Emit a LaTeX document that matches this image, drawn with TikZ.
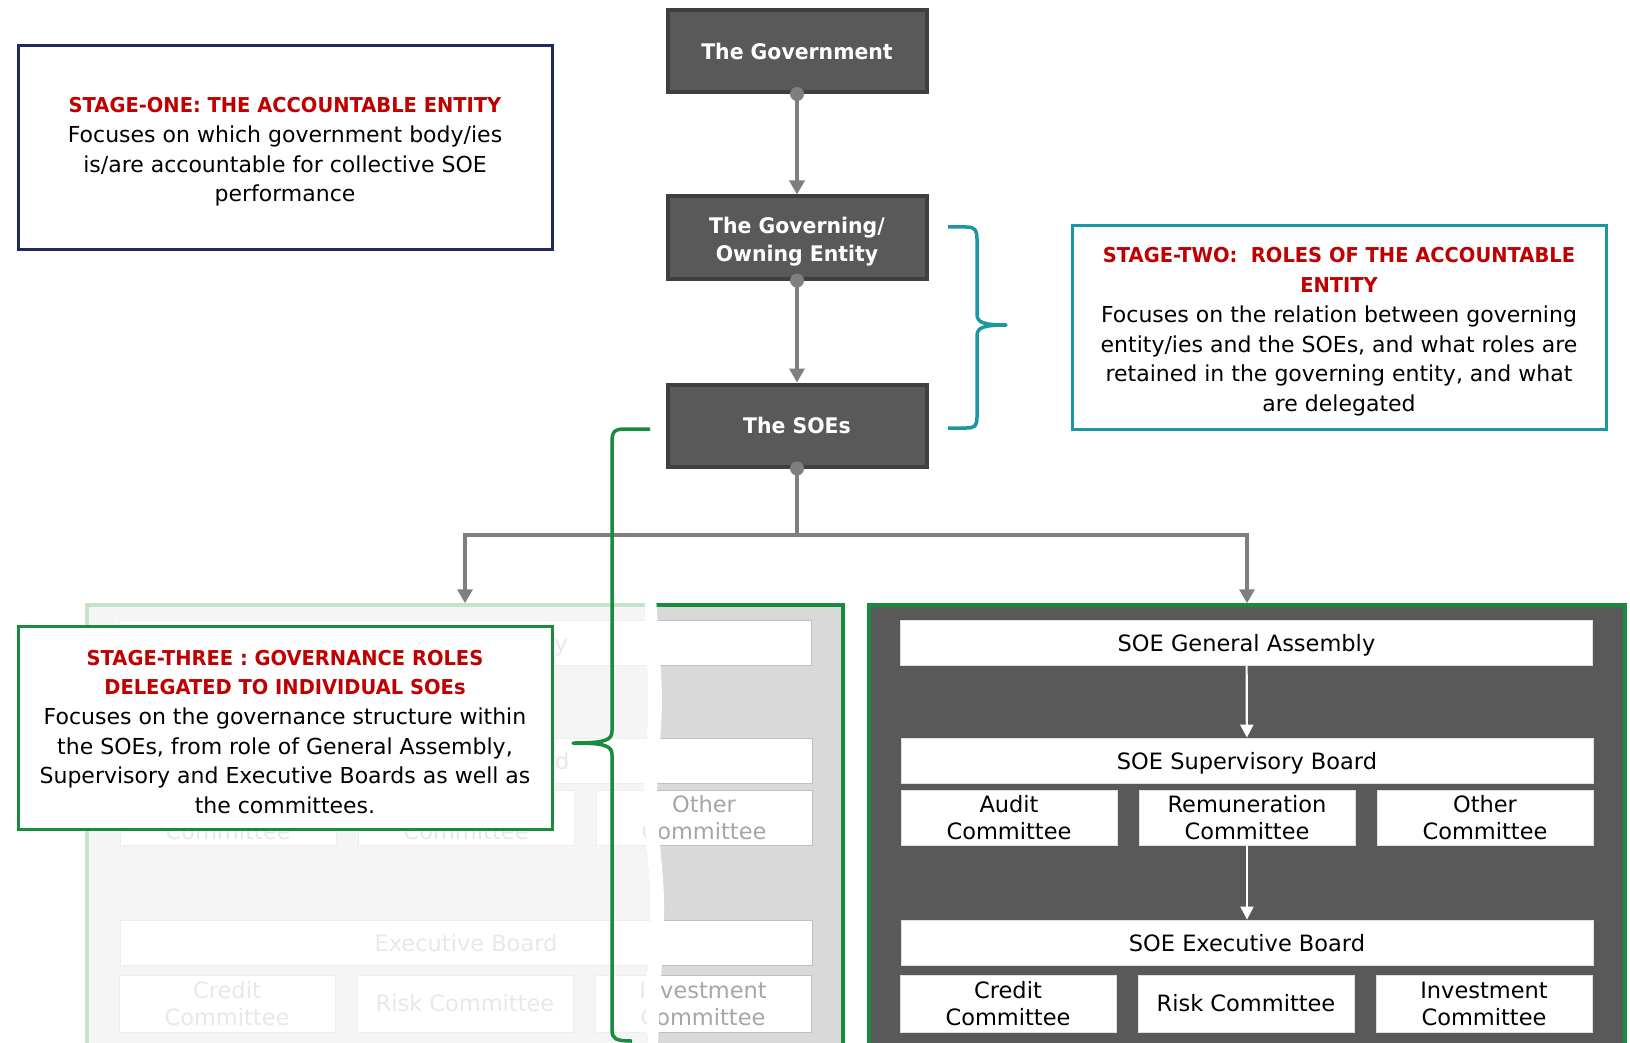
\documentclass[tikz,border=0pt]{standalone}
\usepackage{fontspec}
\setmainfont{DejaVu Sans}
\newfontfamily\headfont[FakeStretch=0.95]{DejaVu Sans}
\usetikzlibrary{arrows.meta}

\definecolor{boxgray}{HTML}{595959}
\definecolor{boxedge}{HTML}{3F3F3F}
\definecolor{linkgray}{HTML}{7F7F7F}
\definecolor{stagered}{HTML}{C00000}
\definecolor{stagenavy}{HTML}{1F2B5E}
\definecolor{stageteal}{HTML}{1B97A3}
\definecolor{stagegreen}{HTML}{178C3F}
\definecolor{panellight}{HTML}{D9D9D9}
\definecolor{fadedtext}{HTML}{A6A6A6}

\tikzset{
  darkbox/.style={fill=boxgray, draw=boxedge, line width=4pt,
    minimum width=259pt, minimum height=82pt, inner sep=0pt,
    text=white, align=center,
    font=\headfont\bfseries\fontsize{21.5}{28}\selectfont},
  stagebox/.style={fill=white, line width=3pt, inner sep=0pt,
    minimum width=534pt, minimum height=203pt, align=center,
    font=\fontsize{22}{29.7}\selectfont},
  tier/.style={fill=white, draw=black!12, line width=0.8pt, inner sep=0pt,
    align=center, font=\fontsize{22.5}{27}\selectfont},
  wide/.style={tier, minimum width=692pt, minimum height=45pt,
    text height=22pt, text depth=5pt},
  comm/.style={tier, minimum width=216pt, minimum height=55pt},
  comm2/.style={tier, minimum width=216pt, minimum height=57pt},
  panel/.style={line width=3.5pt, minimum width=756pt, minimum height=445pt, inner sep=0pt},
  link/.style={draw=linkgray, line width=4pt, -{Triangle[length=14pt,width=15pt]}},
  inlink/.style={draw=white, line width=2.2pt, -{Triangle[length=13pt,width=13pt]}},
  brace/.style={line width=3.5pt, line join=round},
}

% red heading inside the stage boxes
\newcommand\stagetitle[1]{{\color{stagered}\headfont\bfseries\fontsize{20.5}{29.7}\selectfont #1}}
% extra room above the first line of a box
\newcommand\topstrut[1]{\rule{0pt}{#1}}

% the boards and committees of one SOE, laid out for the right-hand panel
\newcommand\orgpanel[3]{%
  \node[wide]  (ga)     at (1246.5,643)  {#1};
  \node[wide]  (sb)     at (1247,760.5)  {#2};
  \node[comm]  (audit)  at (1009,817.5)  {Audit\\Committee};
  \node[comm]  (rem)    at (1247,817.5)  {Remuneration\\Committee};
  \node[comm]  (other)  at (1485,817.5)  {Other\\Committee};
  \node[wide]  (eb)     at (1247,942.5)  {#3};
  \node[comm2] (credit) at (1008,1003.5) {Credit\\Committee};
  \node[comm2] (risk)   at (1246,1003.5) {Risk Committee};
  \node[comm2] (invest) at (1484,1003.5) {Investment\\Committee};
}

\begin{document}
\begin{tikzpicture}[x=1pt, y=-1pt]
\useasboundingbox[fill=white] (0,0) rectangle (1630,1043);

% ---- chain of the state bodies
\node[darkbox] (gov)  at (797,51)    {The Government};
\node[darkbox] (govn) at (797,237.5) {\topstrut{24.5pt}The Governing/\\Owning Entity};
\node[darkbox] (soes) at (797,425.5) {The SOEs};

% ---- stage descriptions
\node[stagebox, draw=stagenavy] (one) at (285,147.5)
  {\topstrut{24pt}\stagetitle{STAGE-ONE: THE ACCOUNTABLE ENTITY}\\
   Focuses on which government body/ies\\
   is/are accountable for collective SOE\\
   performance};
\node[stagebox, draw=stageteal] (two) at (1339,327.5)
  {\topstrut{24pt}\stagetitle{STAGE-TWO:\ \ ROLES OF THE ACCOUNTABLE}\\
   \stagetitle{ENTITY}\\
   Focuses on the relation between governing\\
   entity/ies and the SOEs, and what roles are\\
   retained in the governing entity, and what\\
   are delegated};

% ---- the two SOE panels
\node[panel, draw=stagegreen, fill=panellight] (lpanel) at (465,827.5) {};
\begin{scope}[shift={(-781,0)}, name prefix=L-,
    tier/.append style={text=fadedtext, draw=black!25}]
  \orgpanel{General Assembly}{Supervisory Board}{Executive Board}
\end{scope}

% faded, torn-off left part of the left panel
\fill[white, opacity=0.75] (80,598) -- plot[smooth] coordinates
  {(644,598) (648,700) (644,800) (650,900) (646,1000) (648,1043)}
  -- (80,1043) -- cycle;
\fill[white] plot[smooth] coordinates
  {(644,598) (648,700) (644,800) (650,900) (646,1000) (648,1043)}
  -- plot[smooth] coordinates
  {(658,1043) (660,1000) (664,900) (657,800) (662,700) (656,598)}
  -- cycle;

\node[panel, draw=stagegreen, fill=boxgray] (rpanel) at (1247,827.5) {};
\orgpanel{SOE General Assembly}{SOE Supervisory Board}{SOE Executive Board}
\draw[inlink] (ga) -- (sb);
\draw[inlink] (rem) -- (eb);

\node[stagebox, draw=stagegreen] (three) at (285,727.5)
  {\topstrut{24pt}\stagetitle{STAGE-THREE : GOVERNANCE ROLES}\\
   \stagetitle{DELEGATED TO INDIVIDUAL SOEs}\\
   Focuses on the governance structure within\\
   the SOEs, from role of General Assembly,\\
   Supervisory and Executive Boards as well as\\
   the committees.};

% ---- connectors
\draw[link] (gov.south) -- (govn.north);
\draw[link] (govn.south) -- (soes.north);
\coordinate (split) at (797,535);
\draw[link] (soes.south) -- (split) -| (lpanel.north);
\draw[link] (split) -| (rpanel.north);
\foreach \n in {gov, govn, soes} \fill[linkgray] (\n.south) circle (7pt);

% ---- braces grouping the stages
\draw[brace, stageteal] (948,227) -- (966,227)
  .. controls (975,227) and (977,230) .. (977,239) -- (977,314)
  .. controls (977,322) and (982,325) .. (1006,325)
  .. controls (982,325) and (977,328) .. (977,336) -- (977,417)
  .. controls (977,426) and (975,428) .. (966,428) -- (948,428);
\draw[brace, stagegreen] (650,429) -- (625,429)
  .. controls (614,429) and (612,432) .. (612,442) -- (612,731)
  .. controls (612,740) and (606,743) .. (573,743)
  .. controls (606,743) and (612,746) .. (612,755) -- (612,1030)
  .. controls (612,1039) and (616,1041) .. (632,1041);
\end{tikzpicture}
\end{document}
